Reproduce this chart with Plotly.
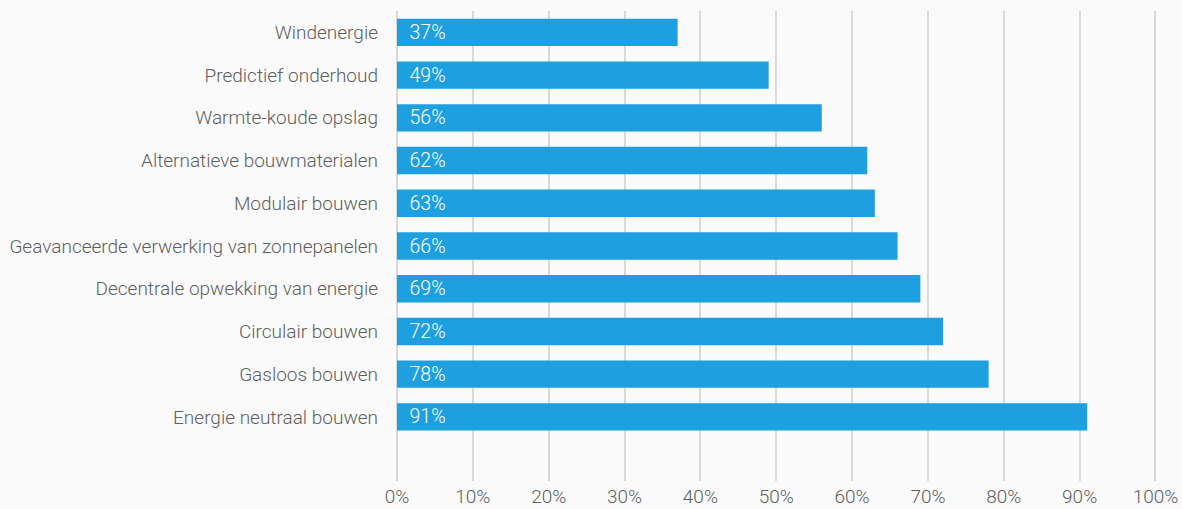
import plotly.graph_objects as go

categories = [
    "Windenergie",
    "Predictief onderhoud",
    "Warmte-koude opslag",
    "Alternatieve bouwmaterialen",
    "Modulair bouwen",
    "Geavanceerde verwerking van zonnepanelen",
    "Decentrale opwekking van energie",
    "Circulair bouwen",
    "Gasloos bouwen",
    "Energie neutraal bouwen",
]
values = [37, 49, 56, 62, 63, 66, 69, 72, 78, 91]
x_ticks = [0, 10, 20, 30, 40, 50, 60, 70, 80, 90, 100]
x_tick_labels = [f"{t}%" for t in x_ticks]

bar_color = "#1e9fdf"
text_gray = "#5e5e5e"
font_family = "Roboto, sans-serif"
pad = "\u00a0\u00a0"

fig = go.Figure(
    go.Bar(
        y=list(range(len(categories))),
        x=values,
        orientation="h",
        marker=dict(color=bar_color, line=dict(width=0)),
        width=0.64,
        text=[f"{pad}{v}%" for v in values],
        textposition="inside",
        insidetextanchor="start",
        textfont=dict(color="white", size=19.5, family=font_family, weight=300),
        cliponaxis=False,
        hoverinfo="skip",
    )
)

fig.update_layout(
    width=1182,
    height=509,
    margin=dict(l=397, r=25, t=11, b=28),
    paper_bgcolor="#fafafa",
    plot_bgcolor="#fafafa",
    showlegend=False,
    font=dict(family=font_family, color=text_gray, size=19),
    uniformtext=dict(minsize=19, mode="show"),
)

fig.update_xaxes(
    range=[0, 100.2],
    tickvals=x_ticks,
    ticktext=x_tick_labels,
    showgrid=True,
    gridcolor="#d9d9d9",
    gridwidth=2,
    zeroline=True,
    zerolinecolor="#d9d9d9",
    zerolinewidth=2,
    showline=False,
    ticks="",
    ticklabelstandoff=2,
    tickfont=dict(size=19, color=text_gray, weight=300),
    automargin=False,
    fixedrange=True,
)

fig.update_yaxes(
    range=[10.5, -0.5],
    tickvals=list(range(len(categories))),
    ticktext=categories,
    showgrid=False,
    zeroline=False,
    showline=False,
    ticks="",
    ticklabelstandoff=18,
    tickfont=dict(size=19, color=text_gray, weight=300),
    automargin=False,
    fixedrange=True,
)

fig.write_html("out.html", config={"displayModeBar": False})
